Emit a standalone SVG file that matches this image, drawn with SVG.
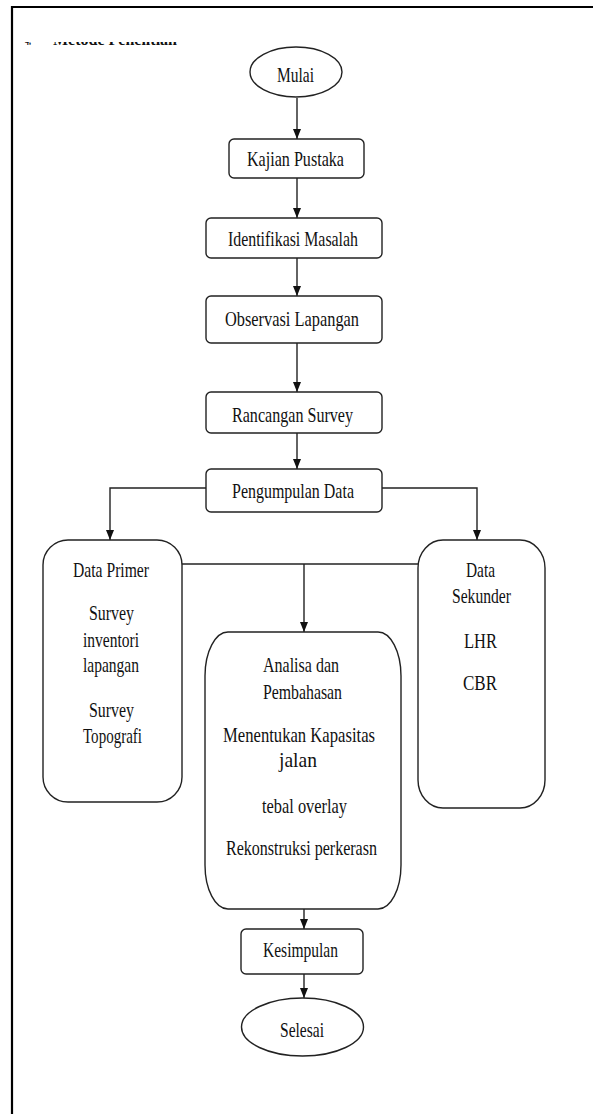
<svg xmlns="http://www.w3.org/2000/svg" width="593" height="1114" viewBox="0 0 593 1114">
<style>
.shape{fill:#fff;stroke:#222;stroke-width:1.4}
.conn{fill:none;stroke:#222;stroke-width:1.4}
.lbl{font-family:"Liberation Serif","Times New Roman",serif;font-size:22px;fill:#111;text-anchor:middle}
.hdr{font-family:"Liberation Serif","Times New Roman",serif;font-size:16px;font-weight:bold;fill:#111}
</style>
<defs>
<marker id="arr" markerWidth="10" markerHeight="8" refX="10" refY="4" orient="auto" markerUnits="userSpaceOnUse">
<path d="M0,0 L10,4 L0,8 z" fill="#111"/>
</marker>
<clipPath id="hclip"><rect x="15" y="42" width="200" height="3.2"/></clipPath>
</defs>
<rect x="0" y="0" width="593" height="1114" fill="#fff"/>
<path d="M12,1114 V7 H593" fill="none" stroke="#000" stroke-width="2.2"/>
<g id="heading" clip-path="url(#hclip)">
<text class="hdr" x="25" y="45" textLength="6" lengthAdjust="spacingAndGlyphs">4.</text>
<text class="hdr" x="53" y="45" textLength="124" lengthAdjust="spacingAndGlyphs">Metode Penelitian</text>
</g>

<g id="connectors">
<line class="conn" x1="297" y1="98" x2="297" y2="139" marker-end="url(#arr)"/>
<line class="conn" x1="297" y1="178" x2="297" y2="218" marker-end="url(#arr)"/>
<line class="conn" x1="297" y1="258" x2="297" y2="296" marker-end="url(#arr)"/>
<line class="conn" x1="297" y1="343" x2="297" y2="392" marker-end="url(#arr)"/>
<line class="conn" x1="297" y1="433" x2="297" y2="469" marker-end="url(#arr)"/>
<polyline class="conn" points="206,488 110,488 110,540" marker-end="url(#arr)"/>
<polyline class="conn" points="382,488 477,488 477,540" marker-end="url(#arr)"/>
<line class="conn" x1="182" y1="564" x2="418" y2="564"/>
<line class="conn" x1="304" y1="564" x2="304" y2="632" marker-end="url(#arr)"/>
<line class="conn" x1="304" y1="909" x2="304" y2="929" marker-end="url(#arr)"/>
<line class="conn" x1="304" y1="974" x2="304" y2="998" marker-end="url(#arr)"/>
</g>

<g id="mulai">
<ellipse class="shape" cx="296" cy="72" rx="46" ry="25"/>
<text class="lbl" x="295.5" y="82" textLength="37" lengthAdjust="spacingAndGlyphs">Mulai</text>
</g>
<g id="kajian">
<rect class="shape" x="229" y="139" width="135" height="39" rx="5"/>
<text class="lbl" x="295.5" y="166" textLength="97" lengthAdjust="spacingAndGlyphs">Kajian Pustaka</text>
</g>
<g id="identifikasi">
<rect class="shape" x="206" y="218" width="176" height="40" rx="5"/>
<text class="lbl" x="293" y="246" textLength="130" lengthAdjust="spacingAndGlyphs">Identifikasi Masalah</text>
</g>
<g id="observasi">
<rect class="shape" x="206" y="296" width="176" height="47" rx="5"/>
<text class="lbl" x="292" y="326" textLength="134" lengthAdjust="spacingAndGlyphs">Observasi Lapangan</text>
</g>
<g id="rancangan">
<rect class="shape" x="206" y="392" width="176" height="41" rx="5"/>
<text class="lbl" x="292.5" y="422" textLength="121" lengthAdjust="spacingAndGlyphs">Rancangan Survey</text>
</g>
<g id="pengumpulan">
<rect class="shape" x="206" y="469" width="176" height="43" rx="5"/>
<text class="lbl" x="293" y="498" textLength="122" lengthAdjust="spacingAndGlyphs">Pengumpulan Data</text>
</g>
<g id="data-primer">
<rect class="shape" x="43" y="540" width="139" height="262" rx="25" ry="25"/>
<text class="lbl" x="111" y="577" textLength="76" lengthAdjust="spacingAndGlyphs">Data Primer</text>
<text class="lbl" x="111.5" y="620" textLength="45" lengthAdjust="spacingAndGlyphs">Survey</text>
<text class="lbl" x="111" y="647" textLength="56" lengthAdjust="spacingAndGlyphs">inventori</text>
<text class="lbl" x="111" y="672" textLength="56" lengthAdjust="spacingAndGlyphs">lapangan</text>
<text class="lbl" x="111.5" y="717" textLength="45" lengthAdjust="spacingAndGlyphs">Survey</text>
<text class="lbl" x="112.5" y="743" textLength="59" lengthAdjust="spacingAndGlyphs">Topografi</text>
</g>
<g id="data-sekunder">
<rect class="shape" x="418" y="540" width="127" height="268" rx="25" ry="28"/>
<text class="lbl" x="480.5" y="577" textLength="29" lengthAdjust="spacingAndGlyphs">Data</text>
<text class="lbl" x="481.5" y="603" textLength="59" lengthAdjust="spacingAndGlyphs">Sekunder</text>
<text class="lbl" x="480.5" y="648" textLength="33" lengthAdjust="spacingAndGlyphs">LHR</text>
<text class="lbl" x="480" y="690" textLength="34" lengthAdjust="spacingAndGlyphs">CBR</text>
</g>
<g id="analisa">
<rect class="shape" x="205" y="632" width="196" height="277" rx="23" ry="44"/>
<text class="lbl" x="301" y="672" textLength="76" lengthAdjust="spacingAndGlyphs">Analisa dan</text>
<text class="lbl" x="302.5" y="699" textLength="79" lengthAdjust="spacingAndGlyphs">Pembahasan</text>
<text class="lbl" x="299" y="742" textLength="152" lengthAdjust="spacingAndGlyphs">Menentukan Kapasitas</text>
<text class="lbl" x="298" y="767" textLength="38" lengthAdjust="spacingAndGlyphs">jalan</text>
<text class="lbl" x="304.5" y="813" textLength="85" lengthAdjust="spacingAndGlyphs">tebal overlay</text>
<text class="lbl" x="301.5" y="855" textLength="151" lengthAdjust="spacingAndGlyphs">Rekonstruksi perkerasn</text>
</g>
<g id="kesimpulan">
<rect class="shape" x="241" y="929" width="122" height="45" rx="5"/>
<text class="lbl" x="300.5" y="957" textLength="75" lengthAdjust="spacingAndGlyphs">Kesimpulan</text>
</g>
<g id="selesai">
<ellipse class="shape" cx="302.5" cy="1027" rx="61" ry="29"/>
<text class="lbl" x="302" y="1037" textLength="44" lengthAdjust="spacingAndGlyphs">Selesai</text>
</g>
</svg>
